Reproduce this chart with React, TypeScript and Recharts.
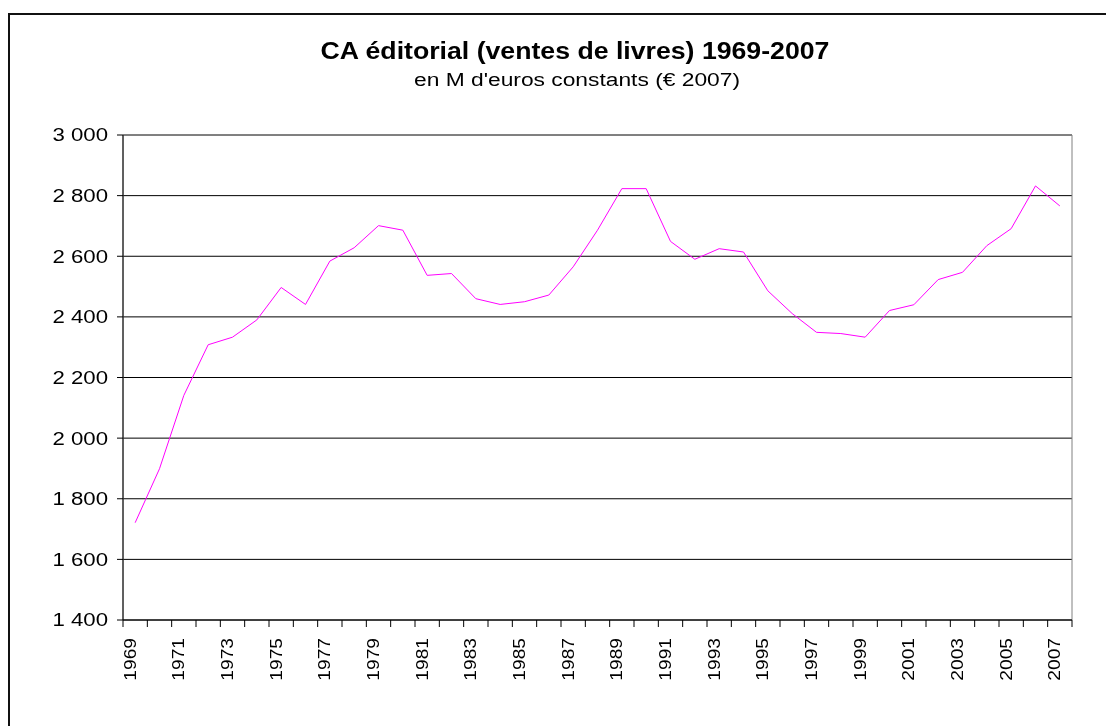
import React from "react";
import { LineChart, Line, XAxis, YAxis, CartesianGrid, ReferenceArea } from "recharts";

const years: number[] = [
  1969, 1970, 1971, 1972, 1973, 1974, 1975, 1976, 1977, 1978,
  1979, 1980, 1981, 1982, 1983, 1984, 1985, 1986, 1987, 1988,
  1989, 1990, 1991, 1992, 1993, 1994, 1995, 1996, 1997, 1998,
  1999, 2000, 2001, 2002, 2003, 2004, 2005, 2006, 2007,
];

const caEditorial: number[] = [
  1721, 1899, 2141, 2308, 2333, 2390, 2497, 2441, 2584, 2628,
  2701, 2686, 2537, 2543, 2460, 2441, 2450, 2472, 2565, 2686,
  2823, 2823, 2649, 2590, 2625, 2614, 2486, 2411, 2349, 2345,
  2333, 2421, 2440, 2523, 2547, 2635, 2691, 2832, 2766,
];

const yTicks: number[] = [1400, 1600, 1800, 2000, 2200, 2400, 2600, 2800, 3000];

const title = "CA éditorial (ventes de livres) 1969-2007";
const subtitle = "en M d'euros constants (€ 2007)";

const FONT = "'Liberation Sans', Arial, sans-serif";

const data = years.map((y, i) => ({ idx: i, year: y, value: caEditorial[i] }));

// x ticks: category boundaries (tick marks) + every other category centre (labels)
const boundaryTicks = years.map((_, i) => i - 0.5).concat([years.length - 0.5]);
const labelTicks = years.map((_, i) => i).filter((i) => i % 2 === 0);
const xTicks = boundaryTicks.concat(labelTicks).sort((a, b) => a - b);

const fmtThousands = (v: number) => String(v).replace(/\B(?=(\d{3})+(?!\d))/g, " ");

const XTick = (props: any) => {
  const { x, y, payload } = props;
  const v = payload.value as number;
  if (Math.abs(v - Math.round(v)) > 0.1) {
    return <line x1={x} y1={y} x2={x} y2={y + 7} stroke="#000" strokeWidth={1} />;
  }
  const label = years[Math.round(v)];
  return (
    <text
      transform={`translate(${x + 0.5},${y + 18}) rotate(-90) scale(1.2,1)`}
      textAnchor="end"
      fontSize={16}
      fontFamily={FONT}
      fill="#000"
    >
      {label}
    </text>
  );
};

const YTick = (props: any) => {
  const { x, y, payload } = props;
  return (
    <g transform={`translate(${x},${y})`}>
      <text transform="scale(1.2,1)" textAnchor="end" dy="0.35em" fontSize={18.5} fontFamily={FONT} fill="#000">
        {fmtThousands(payload.value)}
      </text>
    </g>
  );
};

export default function App() {
  return (
    <div style={{ position: "relative", width: 1090, height: 710, overflow: "hidden", background: "#fff" }}>
      <div
        style={{
          position: "fixed",
          left: 8,
          top: 13,
          width: 1300,
          height: 900,
          borderTop: "2px solid #111",
          borderLeft: "2px solid #111",
          boxSizing: "border-box",
          pointerEvents: "none",
        }}
      />
      <div style={{ position: "absolute", left: 0, top: 0 }}>
        <LineChart
          width={1090}
          height={710}
          data={data}
          margin={{ top: 127, right: 26, bottom: 38, left: 0 }}
        >
          <CartesianGrid vertical={false} stroke="#000" strokeWidth={1} />
          <ReferenceArea
            x1={-0.5}
            x2={years.length - 0.5}
            y1={1400}
            y2={3000}
            fill="none"
            fillOpacity={0}
            stroke="#808080"
            strokeWidth={1}
            ifOverflow="visible"
          />
          <XAxis
            type="number"
            dataKey="idx"
            domain={[-0.5, years.length - 0.5]}
            ticks={xTicks}
            interval={0}
            tickLine={false}
            tickSize={0}
            tickMargin={0}
            tick={<XTick />}
            axisLine={{ stroke: "#000", strokeWidth: 1 }}
            height={60}
            allowDataOverflow
          />
          <YAxis
            type="number"
            domain={[1400, 3000]}
            ticks={yTicks}
            interval={0}
            width={115}
            tickSize={6}
            tickMargin={9}
            tickLine={{ stroke: "#000" }}
            axisLine={{ stroke: "#000", strokeWidth: 1 }}
            tick={<YTick />}
            allowDataOverflow
          />
          <Line
            type="linear"
            dataKey="value"
            stroke="#FF00FF"
            strokeWidth={1}
            dot={false}
            activeDot={false}
            isAnimationActive={false}
          />
        </LineChart>
      </div>
      <svg
        width={1090}
        height={110}
        style={{ position: "absolute", left: 0, top: 0, pointerEvents: "none" }}
      >
        <g transform="translate(567,51.3)">
          <text transform="scale(1.16,1)" textAnchor="middle" fontSize={23} fontWeight="bold" fontFamily={FONT} fill="#000">
            {title}
          </text>
        </g>
        <g transform="translate(569,78)">
          <text transform="scale(1.2,1)" textAnchor="middle" fontSize={19} fontFamily={FONT} fill="#000">
            {subtitle}
          </text>
        </g>
      </svg>
    </div>
  );
}
